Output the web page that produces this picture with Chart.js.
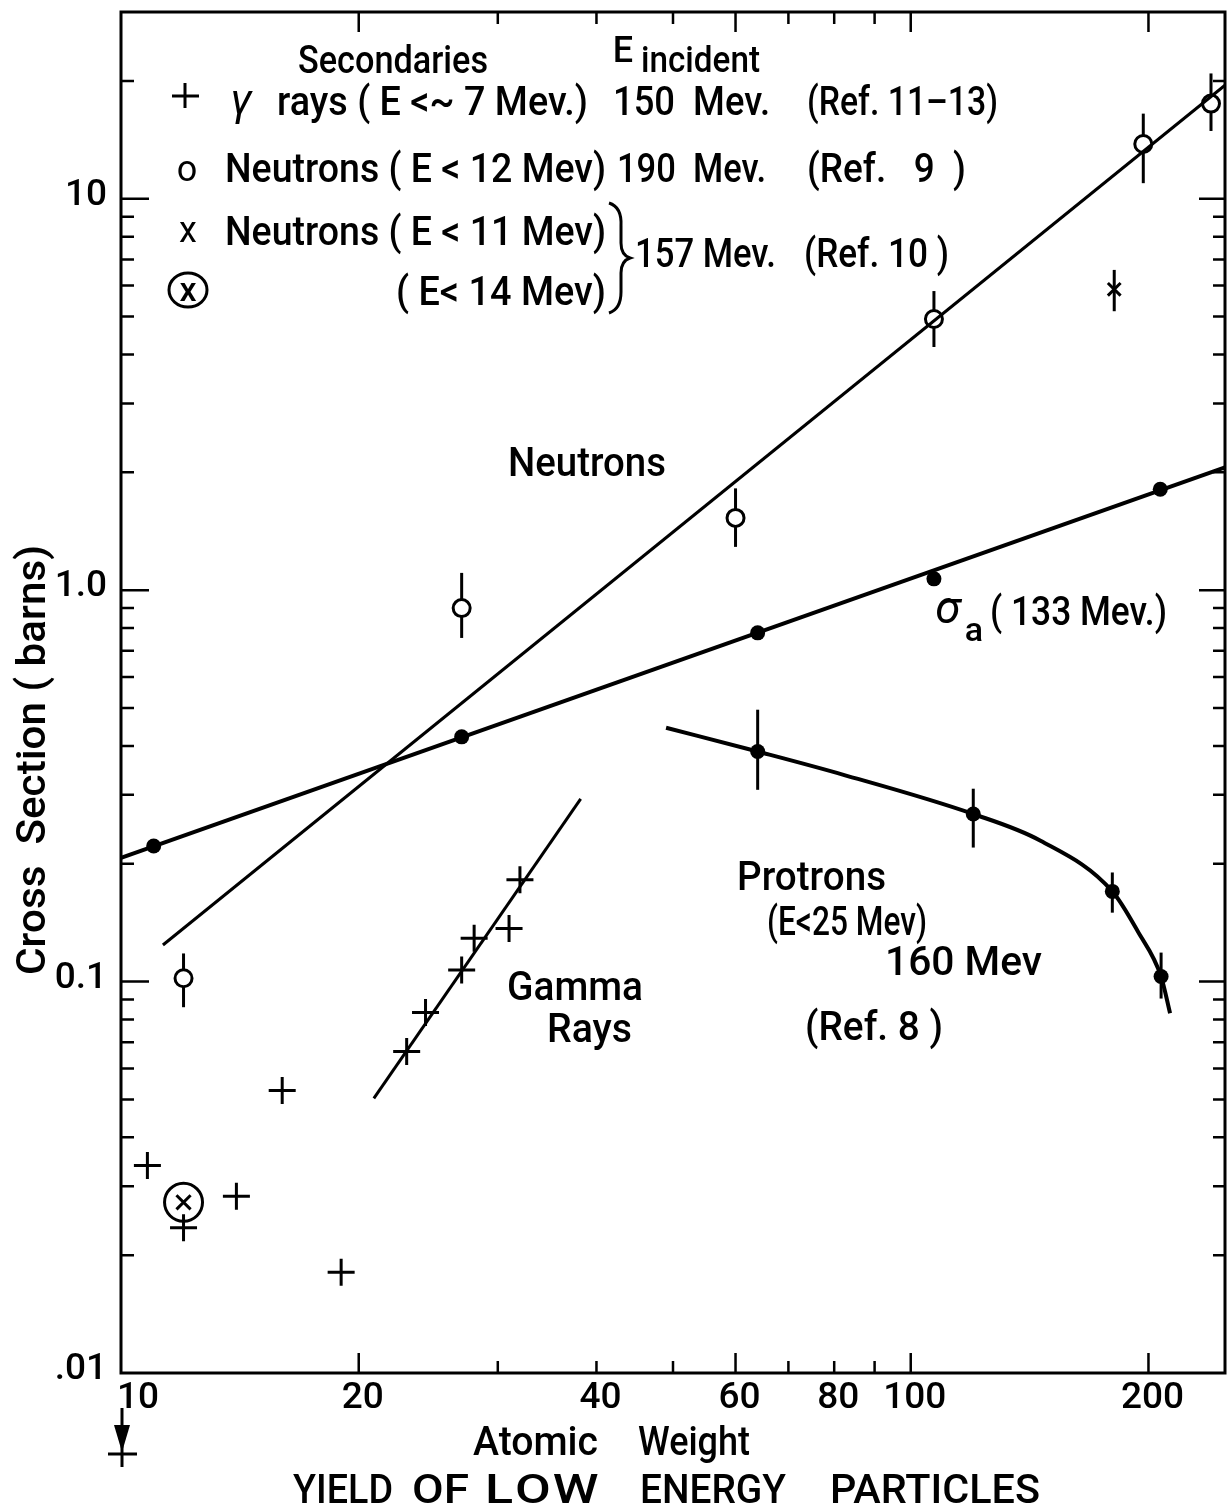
<!DOCTYPE html>
<html>
<head>
<meta charset="utf-8">
<script src="https://cdn.jsdelivr.net/npm/chart.js@4.4.1/dist/chart.umd.min.js"></script>
<style>
  html, body { margin: 0; padding: 0; background: #fff; }
  #wrap { width: 1228px; height: 1507px; }
</style>
</head>
<body>
<div id="wrap"><canvas id="c" width="1228" height="1507"></canvas></div>
<script>
// ---- Absorption cross section sigma_a at 133 MeV (filled dots + fitted line)
const sigmaA_A   = [11, 27, 64, 107, 207];
const sigmaA_val = [0.222, 0.422, 0.778, 1.069, 1.81];
const sigmaAFit_A   = [10, 250];
const sigmaAFit_val = [0.207, 2.06];

// ---- Neutrons (E < 12 MeV), 190 MeV incident (open circles)
const n190_A   = [12, 27, 60, 107, 197, 240];
const n190_val = [0.102, 0.90, 1.53, 4.93, 13.8, 17.5];
const n190_lo  = [0.086, 0.755, 1.29, 4.18, 10.96, 14.9];
const n190_hi  = [0.118, 1.107, 1.82, 5.81, 16.5, 20.9];
const neutronFit_A   = [11.3, 250];
const neutronFit_val = [0.124, 19.5];

// ---- Neutrons 157 MeV incident: x (E < 11 MeV) and circled x (E < 14 MeV)
const n157_A   = [181];
const n157_val = [5.87];
const n157_lo  = [5.16];
const n157_hi  = [6.58];
const n157c_A   = [12];
const n157c_val = [0.0273];

// ---- Gamma rays (E < ~7 MeV), 150 MeV incident
const gamma_A   = [10.8, 12, 14, 16, 19, 23, 24.3, 27, 28, 31, 32];
const gamma_val = [0.0339, 0.0235, 0.0283, 0.0527, 0.0181, 0.0663, 0.0834, 0.107, 0.129, 0.1366, 0.182];
const gammaFit_A   = [20.9, 38.2];
const gammaFit_val = [0.0503, 0.293];

// ---- Protons (E < 25 MeV), 160 MeV incident
const proton_A   = [64, 120, 180, 207.5];
const proton_val = [0.387, 0.268, 0.170, 0.103];
const proton_lo  = [0.309, 0.22, 0.15, 0.0905];
const proton_hi  = [0.495, 0.311, 0.19, 0.1186];
const protonCurve_A   = [49, 64, 82, 120, 146, 180, 194, 207.5, 213];
const protonCurve_val = [0.445, 0.387, 0.338, 0.268, 0.229, 0.170, 0.134, 0.103, 0.083];

// ---- Axes
const xRange = [10, 250];
const yRange = [0.01, 30];
const xTickVals   = [20, 30, 40, 50, 60, 70, 80, 90, 100, 200];
const xMajorVals  = [20, 60, 100, 200];
const xLabelVals  = [10, 20, 40, 60, 80, 100, 200];
const xLabelText  = ['10', '20', '40', '60', '80', '100', '200'];
const yDecades    = [0.01, 0.1, 1, 10];
const yLabelVals  = [10, 1, 0.1, 0.01];
const yLabelText  = ['10', '1.0', '0.1', '.01'];

const FONT = 'Roboto, "Open Sans", "DejaVu Sans", sans-serif';
const WEIGHT = '500';

function pts(xs, ys) { return xs.map((x, i) => ({ x: x, y: ys[i] })); }

// Text laid out to span [left, right]: squeezed if too long,
// otherwise widened (up to maxWiden) and the rest spread between the letters.
function fitText(ctx, str, left, right, base, size, style, maxWiden) {
  ctx.save();
  ctx.font = (style ? style + ' ' : '') + WEIGHT + ' ' + size + 'px ' + FONT;
  ctx.textAlign = 'left';
  ctx.textBaseline = 'alphabetic';
  const target = right - left;
  const w = ctx.measureText(str).width;
  const chars = Array.from(str);
  const limit = maxWiden || 1.12;
  if (w >= target || chars.length < 2 || target / w <= limit) {
    ctx.translate(left, base);
    ctx.scale(target / w, 1);
    ctx.fillText(str, 0, 0);
  } else {
    const gap = (target - w * limit) / (chars.length - 1);
    ctx.translate(left, base);
    let x = 0;
    chars.forEach(ch => {
      ctx.save();
      ctx.translate(x, 0);
      ctx.scale(limit, 1);
      ctx.fillText(ch, 0, 0);
      ctx.restore();
      x += ctx.measureText(ch).width * limit + gap;
    });
  }
  ctx.restore();
}
function centerText(ctx, str, cx, base, size, style, weight) {
  ctx.save();
  ctx.font = (style ? style + ' ' : '') + (weight || WEIGHT) + ' ' + size + 'px ' + FONT;
  ctx.textAlign = 'center';
  ctx.textBaseline = 'alphabetic';
  ctx.fillText(str, cx, base);
  ctx.restore();
}

const decorations = {
  id: 'decorations',
  beforeDraw(chart) {
    const ctx = chart.ctx;
    ctx.save();
    ctx.fillStyle = '#fff';
    ctx.fillRect(0, 0, chart.width, chart.height);
    ctx.restore();
  },
  beforeDatasetsDraw(chart) {
    // vertical error bars, drawn under the markers
    const ctx = chart.ctx, xs = chart.scales.x, ys = chart.scales.y;
    ctx.save();
    ctx.strokeStyle = '#000';
    ctx.lineWidth = 3;
    ctx.lineCap = 'butt';
    chart.data.datasets.forEach(ds => {
      if (!ds.errLo) return;
      ds.data.forEach((p, i) => {
        const px = xs.getPixelForValue(p.x);
        ctx.beginPath();
        ctx.moveTo(px, ys.getPixelForValue(ds.errLo[i]));
        ctx.lineTo(px, ys.getPixelForValue(ds.errHi[i]));
        ctx.stroke();
      });
    });
    ctx.restore();
  },
  afterDraw(chart) {
    const ctx = chart.ctx, xs = chart.scales.x, ys = chart.scales.y;
    const a = chart.chartArea;
    ctx.save();
    ctx.strokeStyle = '#000';
    ctx.fillStyle = '#000';

    // frame
    ctx.lineWidth = 3;
    ctx.strokeRect(a.left, a.top, a.right - a.left, a.bottom - a.top);

    // x ticks (inward, bottom and top)
    ctx.lineWidth = 2.5;
    xTickVals.forEach(v => {
      const px = xs.getPixelForValue(v);
      const len = xMajorVals.includes(v) ? 20 : 12;
      ctx.beginPath();
      ctx.moveTo(px, a.bottom); ctx.lineTo(px, a.bottom - len);
      ctx.moveTo(px, a.top); ctx.lineTo(px, a.top + len);
      ctx.stroke();
    });
    // y ticks (inward, left and right)
    yDecades.forEach(d => {
      for (let k = 1; k <= 9; k++) {
        const v = d * k;
        if (v <= yRange[0] || v >= yRange[1]) continue;
        const py = ys.getPixelForValue(v);
        const major = k === 1;
        ctx.beginPath();
        ctx.moveTo(a.left, py); ctx.lineTo(a.left + (major ? 28 : 13), py);
        ctx.moveTo(a.right, py); ctx.lineTo(a.right - (major ? 26 : 12), py);
        ctx.stroke();
      }
    });

    // tick labels
    ctx.font = WEIGHT + ' 37px ' + FONT;
    ctx.textBaseline = 'middle';
    ctx.textAlign = 'right';
    yLabelVals.forEach((v, i) => {
      ctx.fillText(yLabelText[i], a.left - 14, ys.getPixelForValue(v) - 3);
    });
    ctx.textBaseline = 'alphabetic';
    xLabelVals.forEach((v, i) => {
      const px = xs.getPixelForValue(v);
      if (i === 0) { ctx.textAlign = 'left'; ctx.fillText(xLabelText[i], px - 4, 1408); }
      else { ctx.textAlign = 'center'; ctx.fillText(xLabelText[i], px + 4, 1408); }
    });

    // axis titles
    fitText(ctx, 'Atomic', 473, 598, 1455, 40);
    fitText(ctx, 'Weight', 638, 750, 1455, 40);
    [['YIELD', 293, 393], ['OF', 412, 469], ['LOW', 485, 597],
     ['ENERGY', 640, 786], ['PARTICLES', 830, 1040]].forEach(w => fitText(ctx, w[0], w[1], w[2], 1503, 40, '', 1.3));
    ctx.save();
    ctx.translate(45, 975);
    ctx.rotate(-Math.PI / 2);
    fitText(ctx, 'Cross  Section ( barns)', 0, 430, 0, 40);
    ctx.restore();

    // below-range gamma point at the left edge (arrow + cross)
    const x10 = xs.getPixelForValue(xRange[0]) + 1;
    ctx.lineWidth = 3;
    ctx.beginPath(); ctx.moveTo(x10, 1408); ctx.lineTo(x10, 1440); ctx.stroke();
    ctx.beginPath(); ctx.moveTo(x10 - 8, 1425); ctx.lineTo(x10 + 8, 1425); ctx.lineTo(x10, 1452); ctx.closePath(); ctx.fill();
    ctx.beginPath();
    ctx.moveTo(x10, 1440); ctx.lineTo(x10, 1467);
    ctx.moveTo(x10 - 14, 1454); ctx.lineTo(x10 + 15, 1454);
    ctx.stroke();

    // ---- key
    fitText(ctx, 'Secondaries', 298, 488, 73, 38);
    centerText(ctx, 'E', 623, 62, 36);
    fitText(ctx, 'incident', 641, 760, 72, 36);

    // row 1: + gamma rays
    ctx.lineWidth = 3;
    ctx.beginPath();
    ctx.moveTo(172, 96); ctx.lineTo(199, 96);
    ctx.moveTo(185, 83); ctx.lineTo(185, 108);
    ctx.stroke();
    centerText(ctx, '\u03B3', 241, 115, 44, 'italic', '400');
    fitText(ctx, 'rays ( E <~ 7 Mev.)', 277, 588, 115, 40);
    fitText(ctx, '150  Mev.', 613, 770, 115, 40);
    fitText(ctx, '(Ref. 11\u201313)', 807, 998, 115, 40);

    // row 2: o neutrons
    centerText(ctx, 'o', 187, 181, 36, '', '400');
    fitText(ctx, 'Neutrons ( E < 12 Mev)', 225, 606, 182, 40);
    fitText(ctx, '190  Mev.', 617, 766, 182, 40);
    fitText(ctx, '(Ref.   9  )', 807, 966, 182, 40);

    // row 3: x neutrons
    centerText(ctx, 'x', 188, 242, 36, '', '400');
    fitText(ctx, 'Neutrons ( E < 11 Mev)', 225, 606, 245, 40);
    // brace
    ctx.lineWidth = 3;
    ctx.beginPath();
    ctx.moveTo(609, 203);
    ctx.quadraticCurveTo(622, 207, 621, 226);
    ctx.lineTo(621, 243);
    ctx.quadraticCurveTo(621, 255, 630, 258);
    ctx.quadraticCurveTo(621, 261, 621, 273);
    ctx.lineTo(621, 292);
    ctx.quadraticCurveTo(621, 309, 609, 313);
    ctx.stroke();
    fitText(ctx, '157 Mev.', 635, 776, 267, 40);
    fitText(ctx, '(Ref. 10 )', 804, 949, 267, 40);

    // row 4: circled x
    ctx.lineWidth = 3;
    ctx.beginPath(); ctx.ellipse(188, 290, 19, 17, 0, 0, Math.PI * 2); ctx.stroke();
    centerText(ctx, 'x', 188, 301, 34);
    fitText(ctx, '( E< 14 Mev)', 396, 606, 305, 40);

    // ---- curve labels
    fitText(ctx, 'Neutrons', 508, 666, 476, 40);
    centerText(ctx, '\u03C3', 948, 623, 46, 'italic', '400');
    centerText(ctx, 'a', 974, 641, 34);
    fitText(ctx, '( 133 Mev.)', 990, 1167, 625, 40);
    fitText(ctx, 'Protrons', 737, 886, 890, 40);
    fitText(ctx, '(E<25 Mev)', 767, 927, 935, 40);
    fitText(ctx, '160 Mev', 885, 1042, 975, 40);
    fitText(ctx, '(Ref. 8 )', 805, 943, 1040, 40);
    fitText(ctx, 'Gamma', 507, 643, 1000, 40);
    fitText(ctx, 'Rays', 547, 632, 1042, 40);

    ctx.restore();
  }
};

const lineStyle = { type: 'line', borderColor: '#000', pointRadius: 0, fill: false, tension: 0 };

new Chart(document.getElementById('c'), {
  data: {
    datasets: [
      Object.assign({ label: 'sigma_a fit', data: pts(sigmaAFit_A, sigmaAFit_val), borderWidth: 4 }, lineStyle),
      Object.assign({ label: 'neutron fit', data: pts(neutronFit_A, neutronFit_val), borderWidth: 3 }, lineStyle),
      Object.assign({ label: 'gamma fit', data: pts(gammaFit_A, gammaFit_val), borderWidth: 3 }, lineStyle),
      Object.assign({ label: 'proton curve', data: pts(protonCurve_A, protonCurve_val), borderWidth: 4, cubicInterpolationMode: 'monotone' }, lineStyle),
      { type: 'scatter', label: 'sigma_a (133 Mev.)', data: pts(sigmaA_A, sigmaA_val),
        pointStyle: 'circle', pointRadius: 7.5, backgroundColor: '#000', borderColor: '#000', borderWidth: 0 },
      { type: 'scatter', label: 'Protons (E<25 Mev) 160 Mev', data: pts(proton_A, proton_val),
        errLo: proton_lo, errHi: proton_hi,
        pointStyle: 'circle', pointRadius: 7.5, backgroundColor: '#000', borderColor: '#000', borderWidth: 0 },
      { type: 'scatter', label: 'Neutrons (E<12 Mev) 190 Mev', data: pts(n190_A, n190_val),
        errLo: n190_lo, errHi: n190_hi,
        pointStyle: 'circle', pointRadius: 8.5, backgroundColor: '#fff', borderColor: '#000', borderWidth: 3 },
      { type: 'scatter', label: 'Neutrons (E<11 Mev) 157 Mev', data: pts(n157_A, n157_val),
        errLo: n157_lo, errHi: n157_hi,
        pointStyle: 'crossRot', pointRadius: 9, borderColor: '#000', borderWidth: 3 },
      { type: 'scatter', label: 'ring (E<14 Mev) 157 Mev', data: pts(n157c_A, n157c_val),
        pointStyle: 'circle', pointRadius: 19, backgroundColor: 'rgba(0,0,0,0)', borderColor: '#000', borderWidth: 3 },
      { type: 'scatter', label: 'x (E<14 Mev) 157 Mev', data: pts(n157c_A, n157c_val),
        pointStyle: 'crossRot', pointRadius: 10, borderColor: '#000', borderWidth: 3 },
      { type: 'scatter', label: 'gamma rays (E<~7 Mev) 150 Mev', data: pts(gamma_A, gamma_val),
        pointStyle: 'cross', pointRadius: 13.5, borderColor: '#000', borderWidth: 3 }
    ]
  },
  options: {
    responsive: false,
    animation: false,
    devicePixelRatio: 1,
    layout: { autoPadding: false, padding: { left: 121, right: 3, top: 12, bottom: 134 } },
    plugins: { legend: { display: false }, tooltip: { enabled: false } },
    scales: {
      x: { type: 'logarithmic', min: xRange[0], max: xRange[1], display: false },
      y: { type: 'logarithmic', min: yRange[0], max: yRange[1], display: false }
    }
  },
  plugins: [decorations]
});
</script>
</body>
</html>
